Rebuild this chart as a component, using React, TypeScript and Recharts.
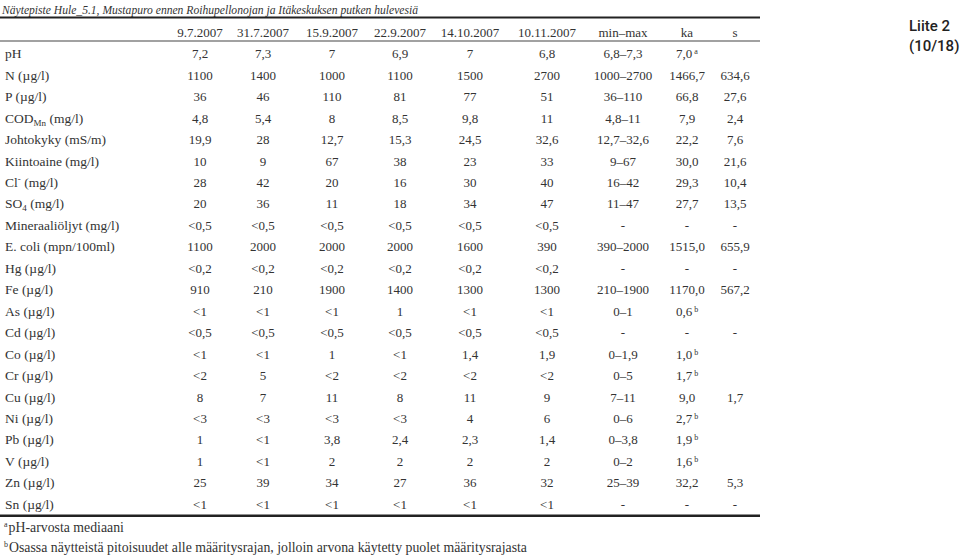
import React from "react";
import { ScatterChart, Scatter, XAxis, YAxis } from "recharts";

// ---------- data ----------
const TITLE = "Näytepiste Hule_5.1, Mustapuro ennen Roihupellonojan ja Itäkeskuksen putken hulevesiä";
const HEADERS = ["9.7.2007", "31.7.2007", "15.9.2007", "22.9.2007", "14.10.2007", "10.11.2007", "min–max", "ka", "s"];
const ROWS = [
  "pH", "N (µg/l)", "P (µg/l)", "COD_{Mn} (mg/l)", "Johtokyky (mS/m)", "Kiintoaine (mg/l)", "Cl^{-} (mg/l)",
  "SO_{4} (mg/l)", "Mineraaliöljyt (mg/l)", "E. coli (mpn/100ml)", "Hg (µg/l)", "Fe (µg/l)", "As (µg/l)",
  "Cd (µg/l)", "Co (µg/l)", "Cr (µg/l)", "Cu (µg/l)", "Ni (µg/l)", "Pb (µg/l)", "V (µg/l)", "Zn (µg/l)", "Sn (µg/l)",
];
const D_0907 = ["7,2", "1100", "36", "4,8", "19,9", "10", "28", "20", "<0,5", "1100", "<0,2", "910", "<1", "<0,5", "<1", "<2", "8", "<3", "1", "1", "25", "<1"];
const D_3107 = ["7,3", "1400", "46", "5,4", "28", "9", "42", "36", "<0,5", "2000", "<0,2", "210", "<1", "<0,5", "<1", "5", "7", "<3", "<1", "<1", "39", "<1"];
const D_1509 = ["7", "1000", "110", "8", "12,7", "67", "20", "11", "<0,5", "2000", "<0,2", "1900", "<1", "<0,5", "1", "<2", "11", "<3", "3,8", "2", "34", "<1"];
const D_2209 = ["6,9", "1100", "81", "8,5", "15,3", "38", "16", "18", "<0,5", "2000", "<0,2", "1400", "1", "<0,5", "<1", "<2", "8", "<3", "2,4", "2", "27", "<1"];
const D_1410 = ["7", "1500", "77", "9,8", "24,5", "23", "30", "34", "<0,5", "1600", "<0,2", "1300", "<1", "<0,5", "1,4", "<2", "11", "4", "2,3", "2", "36", "<1"];
const D_1011 = ["6,8", "2700", "51", "11", "32,6", "33", "40", "47", "<0,5", "390", "<0,2", "1300", "<1", "<0,5", "1,9", "<2", "9", "6", "1,4", "2", "32", "<1"];
const MINMAX = ["6,8–7,3", "1000–2700", "36–110", "4,8–11", "12,7–32,6", "9–67", "16–42", "11–47", "-", "390–2000", "-", "210–1900", "0–1", "-", "0–1,9", "0–5", "7–11", "0–6", "0–3,8", "0–2", "25–39", "-"];
const KA = ["7,0", "1466,7", "66,8", "7,9", "22,2", "30,0", "29,3", "27,7", "-", "1515,0", "-", "1170,0", "0,6", "-", "1,0", "1,7", "9,0", "2,7", "1,9", "1,6", "32,2", "-"];
const KA_NOTE = ["a", "", "", "", "", "", "", "", "", "", "", "", "b", "", "b", "b", "", "b", "b", "b", "", ""];
const S = ["", "634,6", "27,6", "2,4", "7,6", "21,6", "10,4", "13,5", "-", "655,9", "-", "567,2", "", "-", "", "", "1,7", "", "", "", "5,3", "-"];
const FOOTNOTES = [
  { mark: "a", text: "pH-arvosta mediaani" },
  { mark: "b", text: "Osassa näytteistä pitoisuudet alle määritysrajan, jolloin arvona käytetty puolet määritysrajasta" },
];
const CORNER = ["Liite 2", "(10/18)"];

// ---------- layout (column centres in table units) ----------
const COL_CENTER = [32, 95, 164, 232, 302, 379, 455, 519, 567];
const TABLE_UNITS = 592;

const COLUMNS = [D_0907, D_3107, D_1509, D_2209, D_1410, D_1011, MINMAX, KA, S];

const SERIF = "'Liberation Serif', 'Times New Roman', serif";
const SANS = "Roboto, 'Open Sans', sans-serif";
const INK = "#333";

function renderRich(label: string) {
  const parts: React.ReactNode[] = [];
  const re = /([_^])\{([^}]*)\}/g;
  let last = 0;
  let m: RegExpExecArray | null;
  let k = 0;
  let pending = 0;
  while ((m = re.exec(label))) {
    if (m.index > last) {
      parts.push(<tspan key={k++} dy={pending || undefined}>{label.slice(last, m.index)}</tspan>);
      pending = 0;
    }
    const sub = m[1] === "_";
    const shift = sub ? 3 : -5;
    parts.push(
      <tspan key={k++} fontSize={9} dy={shift + pending || undefined}>{m[2]}</tspan>
    );
    pending = -shift;
    last = m.index + m[0].length;
  }
  if (last < label.length) parts.push(<tspan key={k++} dy={pending || undefined}>{label.slice(last)}</tspan>);
  return parts;
}

const RowTick = (props: any) => {
  const { y, payload } = props;
  const label = ROWS[payload.value];
  if (label === undefined) return null;
  return (
    <text x={5} y={y + 4.5} fontFamily={SERIF} fontSize={13.5} fill={INK} textAnchor="start">
      {renderRich(label)}
    </text>
  );
};

const HeadTick = (props: any) => {
  const { x, y, payload } = props;
  const idx = COL_CENTER.indexOf(payload.value);
  if (idx < 0) return null;
  return (
    <text x={x} y={y - 6.5} fontFamily={SERIF} fontSize={13} fill={INK} textAnchor="middle">
      {HEADERS[idx]}
    </text>
  );
};

const CellShape = (props: any) => {
  const { cx, cy, payload } = props;
  if (!payload || !payload.text) return <g />;
  return (
    <text x={cx} y={cy + 4.5} fontFamily={SERIF} fontSize={13} fill={INK} textAnchor="middle">
      {payload.text}
      {payload.note ? (
        <tspan fontSize={8} dy={-4}>{"\u00a0" + payload.note}</tspan>
      ) : null}
    </text>
  );
};

export default function App() {
  const seriesData = COLUMNS.map((col, c) =>
    col.map((text, r) => ({ x: COL_CENTER[c], y: r, text, note: c === 7 ? KA_NOTE[r] : "" }))
  );
  return (
    <div style={{ position: "absolute", left: 0, top: 0, width: 960, height: 555, background: "#fff", overflow: "hidden" }}>
      <ScatterChart width={960} height={555} margin={{ top: 0, right: 200, bottom: 40, left: 0 }}>
        <XAxis
          type="number"
          dataKey="x"
          orientation="top"
          domain={[0, TABLE_UNITS]}
          ticks={COL_CENTER}
          interval={0}
          height={43}
          axisLine={false}
          tickLine={false}
          tickSize={0}
          tickMargin={0}
          tick={<HeadTick />}
        />
        <YAxis
          type="number"
          dataKey="y"
          domain={[-0.5, ROWS.length - 0.5]}
          reversed
          ticks={ROWS.map((_, i) => i)}
          interval={0}
          width={168}
          axisLine={false}
          tickLine={false}
          tick={<RowTick />}
        />
        {seriesData.map((data, c) => (
          <Scatter key={c} name={HEADERS[c]} data={data} shape={<CellShape />} isAnimationActive={false} />
        ))}
      </ScatterChart>
      <svg width={960} height={555} style={{ position: "absolute", left: 0, top: 0, pointerEvents: "none" }}>
        <text x={2} y={14} fontFamily={SERIF} fontStyle="italic" fontSize={12} fill={INK} textLength={416} lengthAdjust="spacingAndGlyphs">{TITLE}</text>
        <rect x={0} y={16.5} width={760} height={2} fill="#222" />
        <rect x={0} y={40.5} width={760} height={1} fill="#444" />
        <rect x={0} y={514.5} width={760} height={2.5} fill="#222" />
        <text x={909} y={31} fontFamily={SANS} fontWeight={500} fontSize={15} fill="#222">{CORNER[0]}</text>
        <text x={909} y={51} fontFamily={SANS} fontWeight={500} fontSize={15} fill="#222">{CORNER[1]}</text>
        {FOOTNOTES.map((f, i) => (
          <text key={i} x={4} y={532 + i * 20} fontFamily={SERIF} fontSize={13.8} fill={INK}>
            <tspan fontSize={8} dy={-5}>{f.mark}</tspan>
            <tspan dy={5} dx={1}>{f.text}</tspan>
          </text>
        ))}
      </svg>
    </div>
  );
}
